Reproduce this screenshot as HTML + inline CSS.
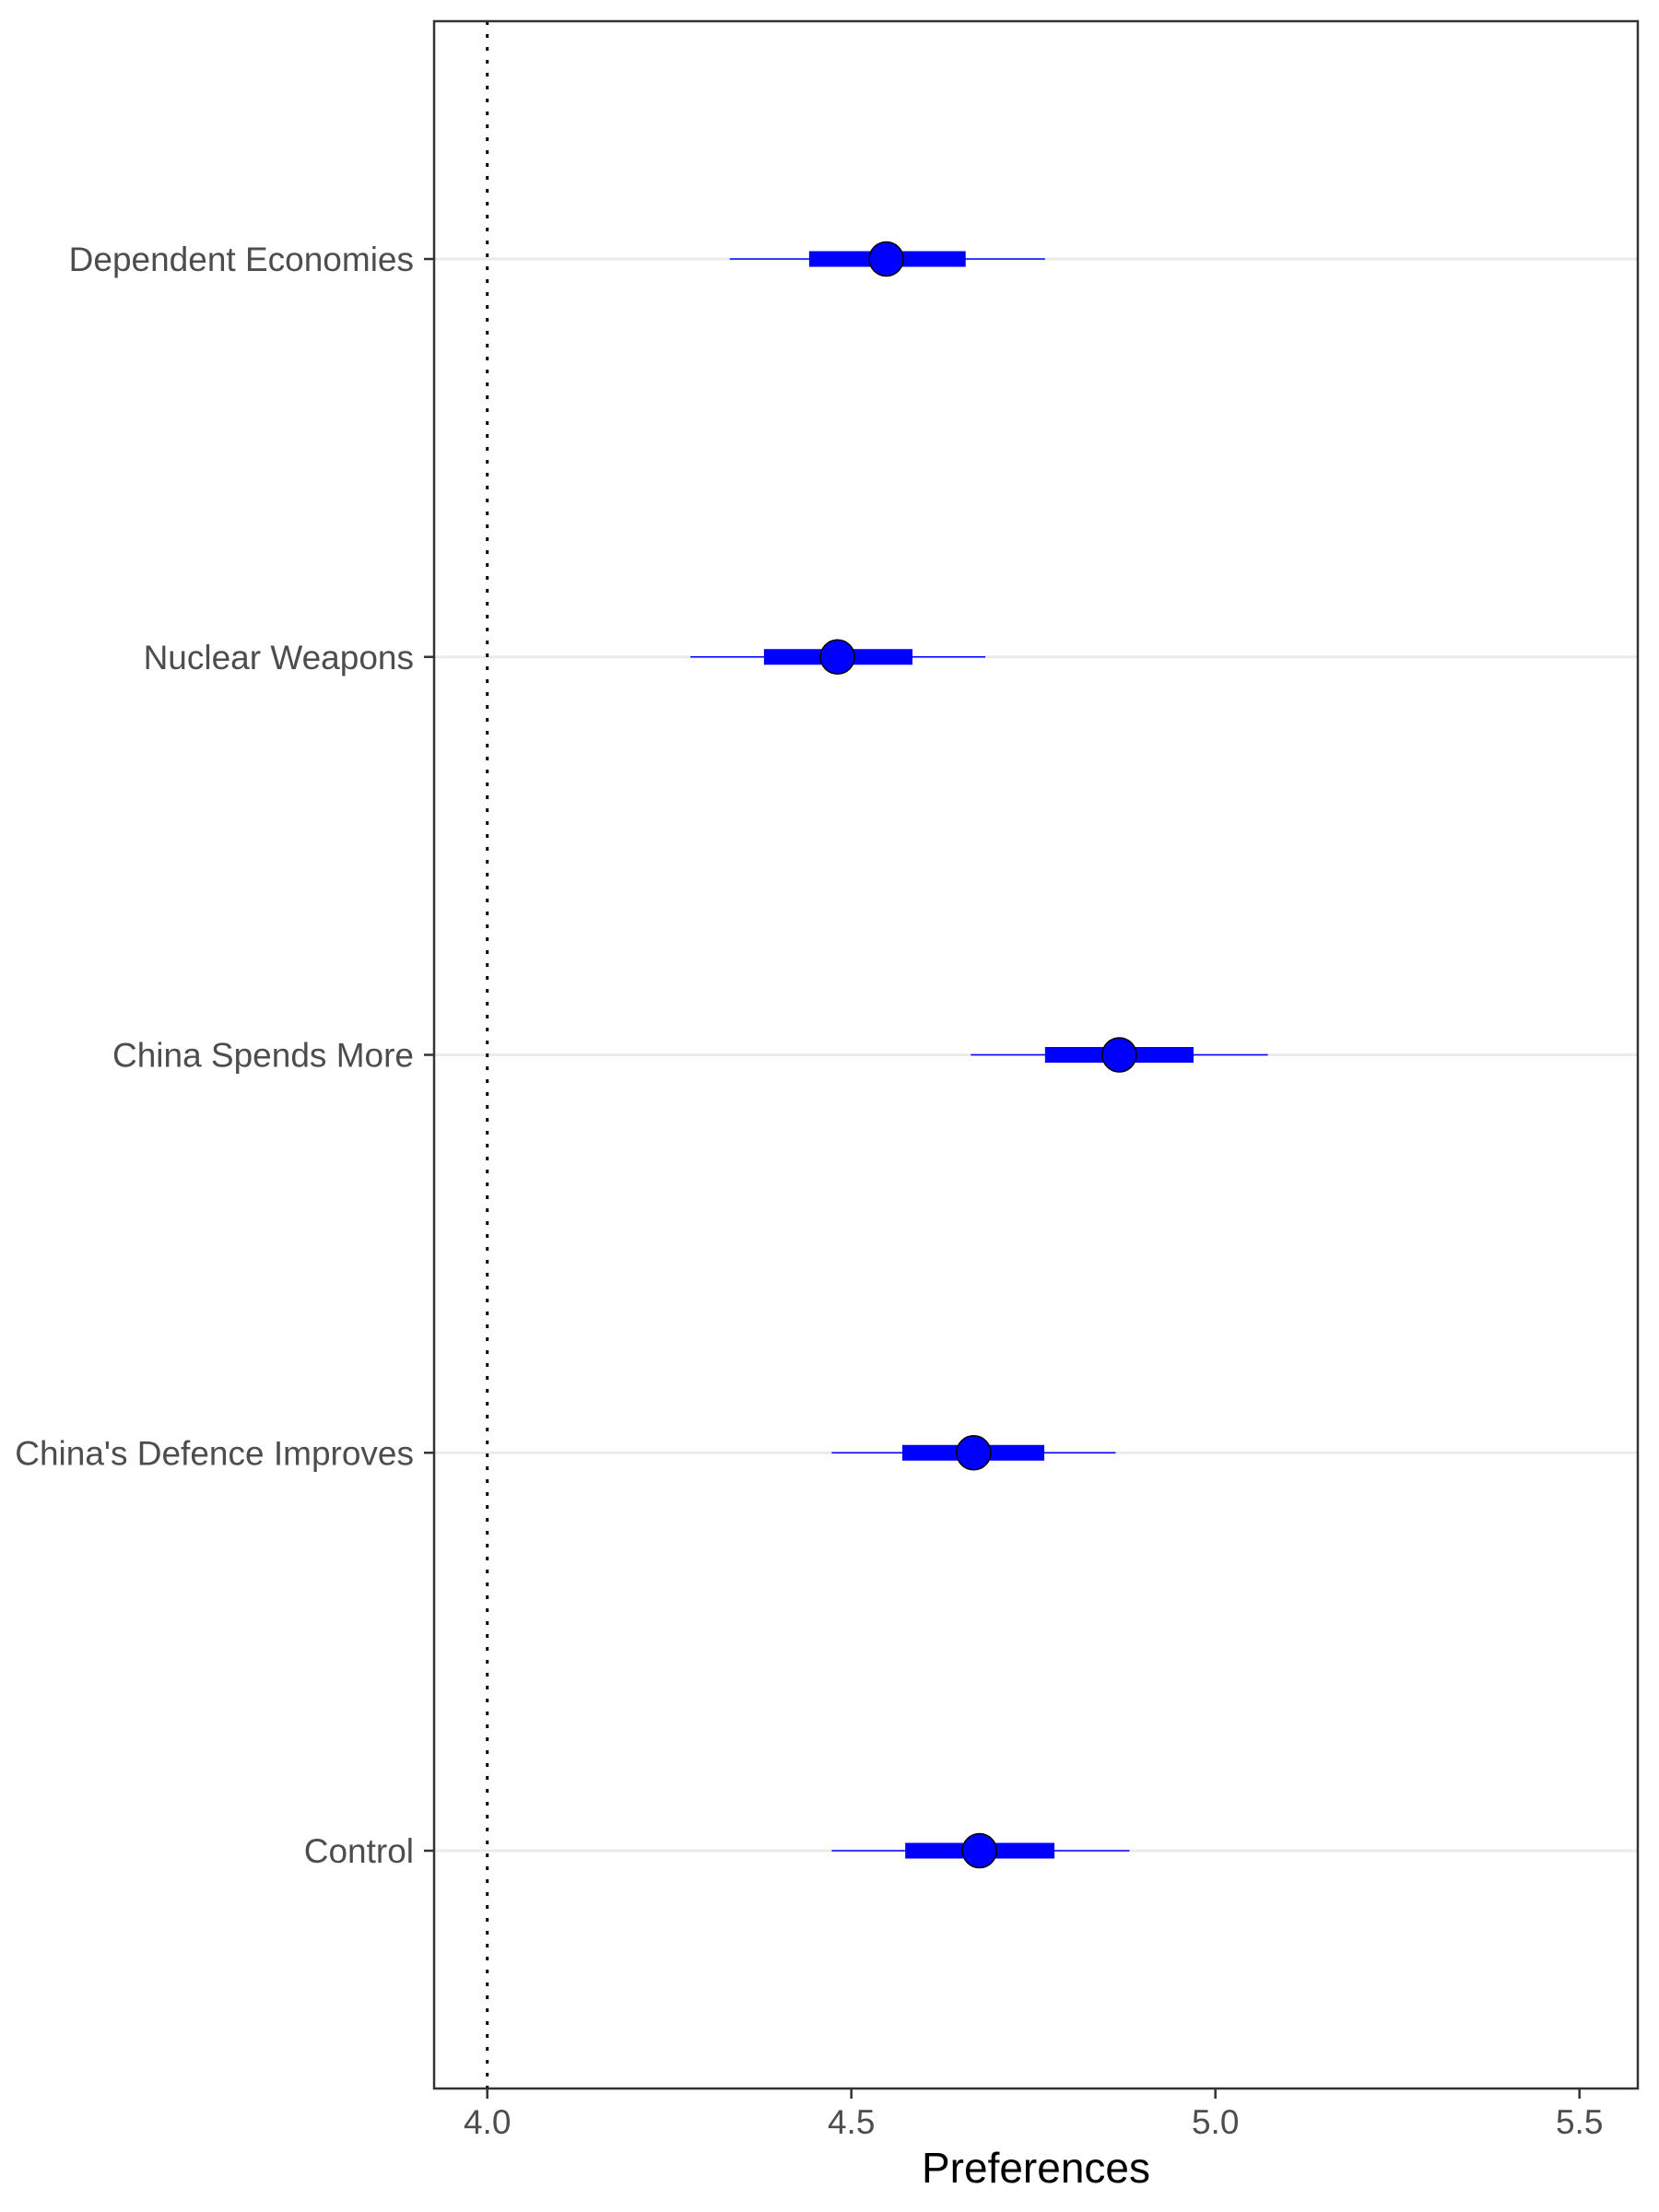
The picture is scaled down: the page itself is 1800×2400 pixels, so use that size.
<!DOCTYPE html>
<html><head><meta charset="utf-8"><style>
body{margin:0;background:#fff;}
svg{display:block;}
text{font-family:"Liberation Sans",Arial,sans-serif;}
</style></head><body>
<svg id="chart" width="1800" height="2400" xmlns="http://www.w3.org/2000/svg">
<rect x="0" y="0" width="1800" height="2400" fill="#fff"/>
</svg>
<script>
const categories = ["Dependent Economies","Nuclear Weapons","China Spends More","China's Defence Improves","Control"];
const estimates = [4.548, 4.481, 4.868, 4.668, 4.676];
const innerLow = [4.442, 4.380, 4.766, 4.570, 4.574];
const innerHigh = [4.657, 4.584, 4.970, 4.765, 4.779];
const outerLow = [4.333, 4.279, 4.664, 4.473, 4.473];
const outerHigh = [4.766, 4.684, 5.072, 4.863, 4.882];
const xTicks = [4.0, 4.5, 5.0, 5.5];
const xTickLabels = ["4.0","4.5","5.0","5.5"];
const refValue = 4.0;

const NS = "http://www.w3.org/2000/svg";
const svg = document.getElementById('chart');
const L=471, R=1777, T=23, B=2266;
function x(v){return 528.7 + (v-4)*790;}
function y(i){return 281 + i*(2008-281)/(categories.length-1);}
function mk(tag, attrs){const e=document.createElementNS(NS,tag);for(const k in attrs)e.setAttribute(k,attrs[k]);svg.appendChild(e);return e;}

categories.forEach((c,i)=>{
  const g=mk('line',{x1:L,x2:R,y1:y(i),y2:y(i),stroke:'#ebebeb','stroke-width':3});
  
  
});
const ref=mk('line',{x1:x(refValue),x2:x(refValue),y1:T,y2:B,stroke:'#000','stroke-width':3,'stroke-dasharray':'4,10'});



categories.forEach((c,i)=>{
  const yy=y(i);
  const o=mk('line',{x1:x(outerLow[i]),x2:x(outerHigh[i]),y1:yy,y2:yy,stroke:'#0000ff','stroke-width':1.6});
  
  
  const n=mk('line',{x1:x(innerLow[i]),x2:x(innerHigh[i]),y1:yy,y2:yy,stroke:'#0000ff','stroke-width':17});
  
  
  const p=mk('circle',{cx:x(estimates[i]),cy:yy,r:18.5,fill:'#0000ff',stroke:'#000','stroke-width':1.5});
  
  
  const tk=mk('line',{x1:L-11,x2:L,y1:yy,y2:yy,stroke:'#333','stroke-width':2.5});
  
  
  const t=mk('text',{x:449,y:yy+13,'text-anchor':'end','font-size':37,fill:'#4d4d4d'});
  t.textContent=c;
  
  
});

xTicks.forEach((v,i)=>{
  const tk=mk('line',{x1:x(v),x2:x(v),y1:B,y2:B+11,stroke:'#333','stroke-width':2.5});
  
  
  const t=mk('text',{x:x(v),y:2315,'text-anchor':'middle','font-size':37,fill:'#4d4d4d'});
  t.textContent=xTickLabels[i];
  
  
});

const frame=mk('rect',{x:L,y:T,width:R-L,height:B-T,fill:'none',stroke:'#333','stroke-width':2.5});


const title=mk('text',{x:(L+R)/2,y:2368,'text-anchor':'middle','font-size':46,fill:'#000'});
title.textContent='Preferences';


</script>
</body></html>
